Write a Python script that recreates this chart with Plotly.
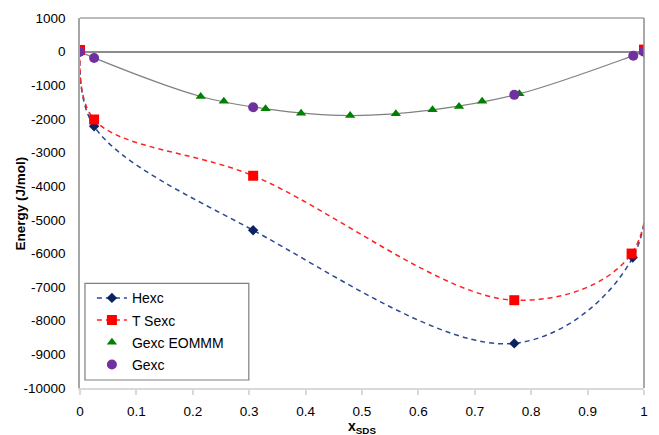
import plotly.graph_objects as go

# ---- data ----
hexc_x = [0, 0.025, 0.307, 0.770, 0.980, 1.0]
hexc_y = [0, -2217, -5310, -8674, -6122, 0]

tsexc_x = [0, 0.025, 0.307, 0.770, 0.978, 1.0]
tsexc_y = [50, -2018, -3690, -7390, -6003, 60]

eommm_x = [0, 0.214, 0.255, 0.329, 0.392, 0.479, 0.560, 0.625, 0.672, 0.713, 0.779, 1.0]
eommm_y = [0, -1335, -1475, -1700, -1830, -1900, -1850, -1730, -1630, -1475, -1255, 0]

gexc_x = [0, 0.025, 0.307, 0.770, 0.981, 1.0]
gexc_y = [0, -187, -1653, -1285, -120, 0]

# grey model curve through the Gexc / EOMMM values
model_x = [0, 0.025, 0.214, 0.329, 0.479, 0.625, 0.779, 0.981, 1.0]
model_y = [0, -187, -1335, -1700, -1900, -1730, -1255, -120, 0]

y_ticks = [1000, 0, -1000, -2000, -3000, -4000, -5000, -6000, -7000, -8000, -9000, -10000]
y_tick_text = ["1000", "0", "-1000", "-2000", "-3000", "-4000", "-5000", "-6000",
               "-7000", "-8000", "-9000", "-10000"]
x_ticks = [0, 0.1, 0.2, 0.3, 0.4, 0.5, 0.6, 0.7, 0.8, 0.9, 1.0]
x_tick_text = ["0", "0.1", "0.2", "0.3", "0.4", "0.5", "0.6", "0.7", "0.8", "0.9", "1"]

FONT = "Arial, Liberation Sans, sans-serif"

fig = go.Figure()

fig.add_trace(go.Scatter(
    x=model_x, y=model_y, mode="lines", showlegend=False, hoverinfo="skip",
    line=dict(color="#808080", width=1.2, shape="spline", smoothing=1.0)))

fig.add_trace(go.Scatter(
    x=hexc_x, y=hexc_y, mode="lines+markers", name="Hexc", legendgroup="a",
    line=dict(color="#2A4A93", width=1.5, dash="5px,4px", shape="spline", smoothing=1.0),
    marker=dict(symbol="diamond", size=8, color="#0B2460")))

fig.add_trace(go.Scatter(
    x=tsexc_x, y=tsexc_y, mode="lines+markers", name="T Sexc", legendgroup="b",
    line=dict(color="#FF2020", width=1.5, dash="5px,4px", shape="spline", smoothing=1.0),
    marker=dict(symbol="square", size=10, color="#FF0000")))

fig.add_trace(go.Scatter(
    x=eommm_x, y=eommm_y, mode="markers", name="Gexc EOMMM", legendgroup="c",
    marker=dict(symbol="triangle-up", size=9, color="#008000")))

fig.add_trace(go.Scatter(
    x=gexc_x, y=gexc_y, mode="markers", name="Gexc", legendgroup="d",
    marker=dict(symbol="circle", size=10, color="#7030A0")))

W, H = 659, 435
L, R, T, B = 80, 11, 17, 47
pw, ph = W - L - R, H - T - B

def px(xp):
    return (xp - L) / pw

def py(yp):
    return (H - B - yp) / ph

fig.update_layout(
    width=W, height=H,
    margin=dict(l=L, r=R, t=T, b=B),
    paper_bgcolor="white", plot_bgcolor="white",
    font=dict(family=FONT, size=13, color="black"),
    showlegend=True,
    legend=dict(x=px(92), y=py(282), xanchor="left", yanchor="top",
                bgcolor="rgba(0,0,0,0)", borderwidth=0,
                font=dict(family=FONT, size=14, color="black"),
                traceorder="grouped", tracegroupgap=1),
    xaxis=dict(range=[0, 1], tickvals=x_ticks, ticktext=x_tick_text,
               showgrid=False, zeroline=False,
               showline=True, linecolor="#D9D9D9", linewidth=1.5,
               ticks="outside", ticklen=5, tickcolor="#D9D9D9", tickwidth=1.5,
               ticklabelstandoff=5,
               tickfont=dict(family=FONT, size=13.5, color="black")),
    yaxis=dict(range=[-10000, 1000], tickvals=y_ticks, ticktext=y_tick_text,
               showgrid=False, zeroline=True, zerolinecolor="#8C8C8C", zerolinewidth=1.5,
               showline=True, linecolor="#A6A6A6", linewidth=1.5,
               ticks="", ticklabelstandoff=10,
               tickfont=dict(family=FONT, size=13.5, color="black")),
    shapes=[
        dict(type="line", xref="paper", yref="paper", x0=0, x1=1, y0=1, y1=1,
             line=dict(color="#A6A6A6", width=1.5)),
        dict(type="line", xref="paper", yref="paper", x0=1, x1=1, y0=0, y1=1,
             line=dict(color="#8C8C8C", width=1.5)),
        dict(type="rect", xref="paper", yref="paper",
             x0=px(85), x1=px(250), y0=py(380), y1=py(283),
             line=dict(color="#7F7F7F", width=1.2), fillcolor="rgba(255,255,255,0)"),
    ],
    annotations=[
        dict(text="<b>Energy (J/mol)</b>", xref="paper", yref="paper",
             x=px(20), y=0.5, xanchor="center", yanchor="middle",
             textangle=-90, showarrow=False,
             font=dict(family=FONT, size=13.5, color="black")),
        dict(text="<b>x<sub>SDS</sub></b>", xref="paper", yref="paper",
             x=0.5, y=py(427), xanchor="center", yanchor="middle",
             showarrow=False, font=dict(family=FONT, size=14, color="black")),
    ],
)

fig.write_html("out.html")
